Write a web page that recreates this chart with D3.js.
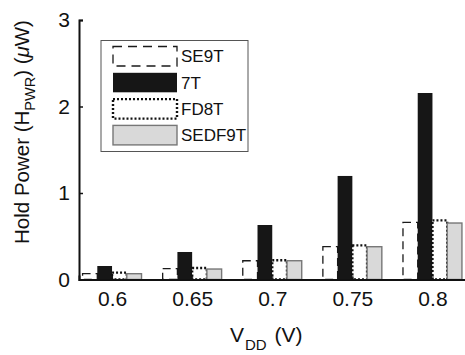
<!DOCTYPE html>
<html>
<head>
<meta charset="utf-8">
<script src="https://cdn.jsdelivr.net/npm/d3@7/dist/d3.min.js"></script>
<style>
  html, body { margin: 0; padding: 0; background: #fff; }
  svg text { font-family: "Liberation Sans", Arial, Helvetica, sans-serif; fill: #111; }
</style>
</head>
<body>
<svg id="chart" width="465" height="355"></svg>
<script>
// Supply voltages (V) on the x axis
const categories = ["0.6", "0.65", "0.7", "0.75", "0.8"];
// Hold power (µW) per cell design
const se9t   = [0.067, 0.125, 0.217, 0.379, 0.661];
const t7     = [0.156, 0.318, 0.630, 1.197, 2.156];
const fd8t   = [0.080, 0.133, 0.222, 0.395, 0.683];
const sedf9t = [0.067, 0.121, 0.217, 0.379, 0.653];
const seriesNames = ["SE9T", "7T", "FD8T", "SEDF9T"];
const yTicks = [0, 1, 2, 3];

const seriesValues = [se9t, t7, fd8t, sedf9t];
const styles = {
  "SE9T":   { fill: "#fff",    stroke: "#1a1a1a", width: 1.3, dash: "8,5" },
  "7T":     { fill: "#161616", stroke: "none",    width: 0,   dash: null },
  "FD8T":   { fill: "#fff",    stroke: "#111",    width: 2.4, dash: "2,2" },
  "SEDF9T": { fill: "#d9d9d9", stroke: "#777",    width: 1.4, dash: null }
};

const svg = d3.select("#chart");

const x = d3.scaleLinear().domain([-0.4125, 4.4125]).range([79, 465.5]);
const y = d3.scaleLinear().domain([0, 3]).range([279.5, 20]);
const sub = d3.scaleBand().domain(seriesNames).range([-0.368, 0.368]);
const bw = x(sub.bandwidth()) - x(0);

// Bars, one group per voltage
const bars = [];
seriesNames.forEach((name, k) => {
  seriesValues[k].forEach((v, i) => bars.push({ name, i, v }));
});
svg.append("g").selectAll("rect").data(bars).join("rect")
  .attr("x", d => x(d.i + sub(d.name)))
  .attr("y", d => y(d.v))
  .attr("width", bw)
  .attr("height", d => y(0) - y(d.v))
  .attr("fill", d => styles[d.name].fill)
  .attr("stroke", d => styles[d.name].stroke)
  .attr("stroke-width", d => styles[d.name].width)
  .attr("stroke-dasharray", d => styles[d.name].dash);

// Axes: inward ticks, left and bottom spines only
const yAxis = d3.axisLeft(y).tickValues(yTicks).tickSize(-4).tickPadding(9).tickFormat(d3.format("d"));
const gy = svg.append("g").attr("transform", `translate(${x.range()[0]},0)`).call(yAxis);
gy.select(".domain").attr("stroke", "#111").attr("stroke-width", 2);
gy.selectAll(".tick line").attr("stroke", "#111").attr("stroke-width", 1.5);
gy.selectAll(".tick text").attr("font-size", 21).attr("fill", "#111");

const xAxis = d3.axisBottom(x).tickValues(d3.range(categories.length)).tickSize(-4).tickPadding(12)
  .tickFormat(i => categories[i]);
const gx = svg.append("g").attr("transform", `translate(0,${y(0)})`).call(xAxis);
gx.select(".domain").attr("stroke", "#111").attr("stroke-width", 2);
gx.selectAll(".tick line").attr("stroke", "#111").attr("stroke-width", 1);
gx.selectAll(".tick text").attr("font-size", 21).attr("fill", "#111");

// Axis titles
const xt = svg.append("text").attr("x", 230).attr("y", 342).attr("text-anchor", "start").attr("font-size", 21);
xt.append("tspan").text("V");
xt.append("tspan").attr("font-size", 15).attr("dx", 1).attr("dy", 8).text("DD");
xt.append("tspan").attr("dx", 2).attr("dy", -8).text(" (V)");

const yt = svg.append("text").attr("transform", "translate(29,132) rotate(-90)")
  .attr("text-anchor", "middle").attr("font-size", 20.5);
yt.append("tspan").text("Hold Power (H");
yt.append("tspan").attr("font-size", 14.5).attr("dy", 6).text("PWR");
yt.append("tspan").attr("dy", -6).text(") (");
yt.append("tspan").attr("font-style", "italic").text("\u03bc");
yt.append("tspan").text("W)");

// Legend
const lg = svg.append("g").attr("transform", "translate(101,40.5)");
lg.append("rect").attr("width", 147).attr("height", 111)
  .attr("fill", "#fff").attr("stroke", "#555").attr("stroke-width", 1);
seriesNames.forEach((name, k) => {
  const row = lg.append("g").attr("transform", `translate(12,${6 + k * 26.3})`);
  const s = styles[name];
  row.append("rect").attr("width", 64).attr("height", 19.5)
    .attr("fill", s.fill).attr("stroke", s.stroke).attr("stroke-width", s.width)
    .attr("stroke-dasharray", name === "SE9T" ? "9,6" : s.dash);
  row.append("text").attr("x", 68).attr("y", 10).attr("dy", "0.35em")
    .attr("font-size", 17).text(name);
});
</script>
</body>
</html>
